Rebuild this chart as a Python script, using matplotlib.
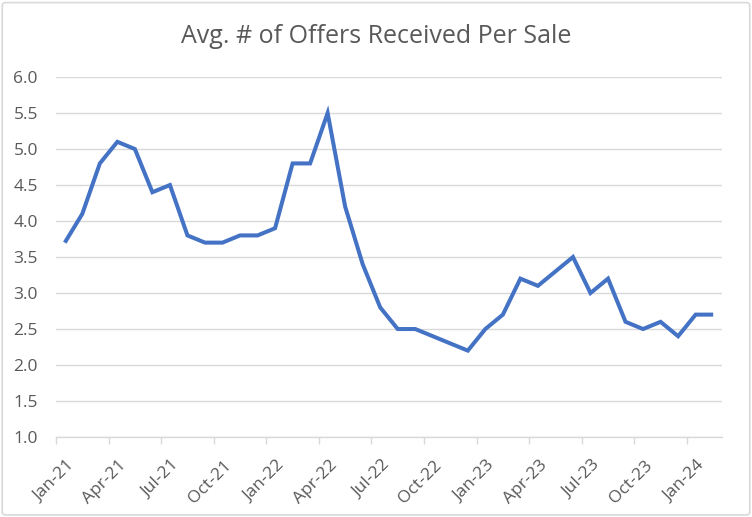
import matplotlib.pyplot as plt
import matplotlib.transforms as mtransforms
from matplotlib.patches import FancyBboxPatch

months = ["Jan-21", "Feb-21", "Mar-21", "Apr-21", "May-21", "Jun-21",
          "Jul-21", "Aug-21", "Sep-21", "Oct-21", "Nov-21", "Dec-21",
          "Jan-22", "Feb-22", "Mar-22", "Apr-22", "May-22", "Jun-22",
          "Jul-22", "Aug-22", "Sep-22", "Oct-22", "Nov-22", "Dec-22",
          "Jan-23", "Feb-23", "Mar-23", "Apr-23", "May-23", "Jun-23",
          "Jul-23", "Aug-23", "Sep-23", "Oct-23", "Nov-23", "Dec-23",
          "Jan-24", "Feb-24"]
offers = [3.7, 4.1, 4.8, 5.1, 5.0, 4.4, 4.5, 3.8, 3.7, 3.7, 3.8, 3.8,
          3.9, 4.8, 4.8, 5.5, 4.2, 3.4, 2.8, 2.5, 2.5, 2.4, 2.3, 2.2,
          2.5, 2.7, 3.2, 3.1, 3.3, 3.5, 3.0, 3.2, 2.6, 2.5, 2.6, 2.4,
          2.7, 2.7]
y_ticks = [1.0, 1.5, 2.0, 2.5, 3.0, 3.5, 4.0, 4.5, 5.0, 5.5, 6.0]

plt.rcParams['font.family'] = ['Open Sans', 'DejaVu Sans']
grey = "#595959"

fig = plt.figure(figsize=(7.52, 5.17), dpi=100)
ax = fig.add_axes([0.0745, 0.1547, 0.8855, 0.6963])

x = list(range(len(offers)))
ax.plot(x, offers, color="#4472C4", linewidth=2.9, solid_joinstyle="miter",
        solid_capstyle="butt")

ax.set_xlim(-0.5, len(offers) - 0.5)
ax.set_ylim(1.0, 6.0)
ax.set_yticks(y_ticks)
ax.set_yticklabels([f"{v:.1f}" for v in y_ticks], color=grey, fontsize=12.5)
ax.tick_params(axis="y", length=0, pad=13)

tick_idx = list(range(0, len(months), 3))
ax.set_xticks([i - 0.5 for i in tick_idx])
ax.set_xticklabels([months[i] for i in tick_idx], rotation=45, ha="right",
                   rotation_mode="anchor", color=grey, fontsize=12.5)
ax.tick_params(axis="x", length=5, color="#D9D9D9", width=1, pad=4)
shift = mtransforms.ScaledTranslation(0.10, -0.08, fig.dpi_scale_trans)
for lbl in ax.get_xticklabels():
    lbl.set_transform(lbl.get_transform() + shift)

ax.grid(axis="y", color="#D9D9D9", linewidth=1)
ax.set_axisbelow(True)
for side in ["top", "right", "left"]:
    ax.spines[side].set_visible(False)
ax.spines["bottom"].set_color("#D9D9D9")
ax.spines["bottom"].set_linewidth(1)

fig.text(0.5, 0.93, "Avg. # of Offers Received Per Sale", ha="center",
         va="center", fontsize=18, color=grey)

border = FancyBboxPatch((0.003, 0.004), 0.994, 0.991,
                        boxstyle="round,pad=0,rounding_size=0.005",
                        transform=fig.transFigure, fill=False,
                        edgecolor="#D9D9D9", linewidth=1.2)
fig.patches.append(border)

fig.savefig("out.png", dpi=100)
